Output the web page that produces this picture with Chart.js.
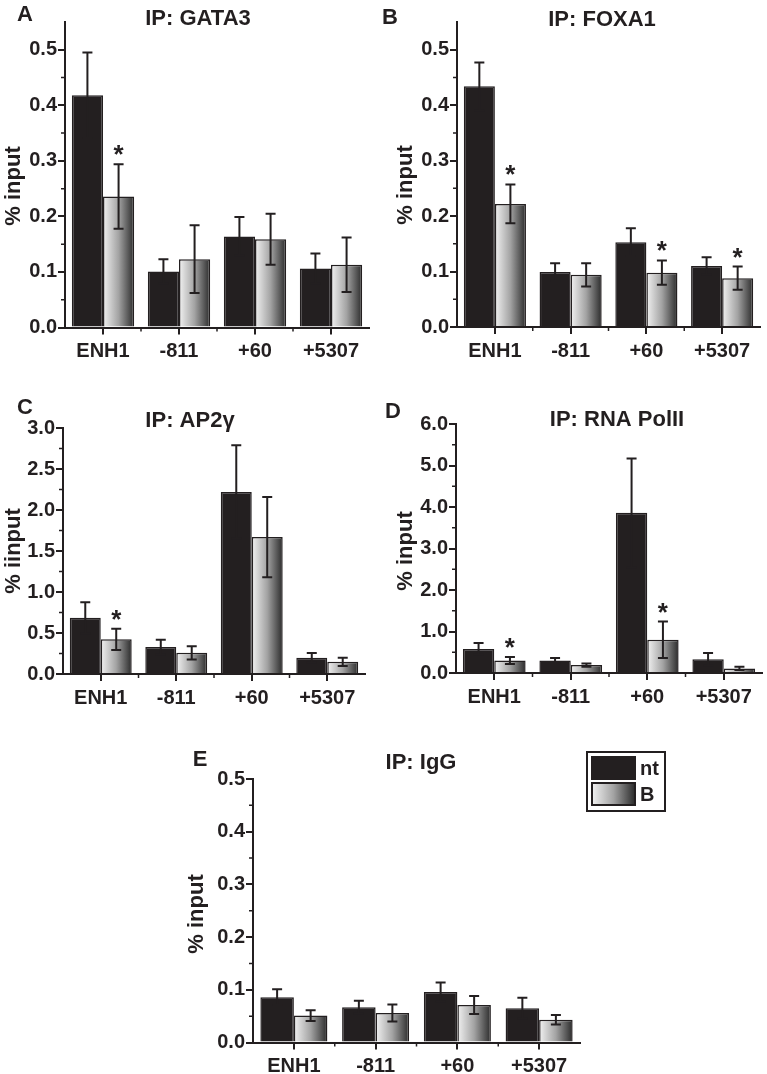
<!DOCTYPE html>
<html>
<head>
<meta charset="utf-8">
<title>ChIP % input</title>
<script src="https://cdn.jsdelivr.net/npm/chart.js@4.4.0/dist/chart.umd.min.js"></script>
<style>
  html, body { margin: 0; padding: 0; background: #fff; }
  #page { position: relative; width: 767px; height: 1074px; overflow: hidden; }
  #page canvas { position: absolute; }
</style>
</head>
<body>
<div id="page">
  <canvas id="panelA" width="380" height="372" style="left:0px;top:0px"></canvas>
  <canvas id="panelB" width="387" height="372" style="left:380px;top:0px"></canvas>
  <canvas id="panelC" width="380" height="340" style="left:0px;top:380px"></canvas>
  <canvas id="panelD" width="387" height="340" style="left:380px;top:380px"></canvas>
  <canvas id="panelE" width="500" height="339" style="left:180px;top:735px"></canvas>
</div>
<script>
// regions on the x axis and the two conditions
const regions = ["ENH1", "-811", "+60", "+5307"];
const seriesNames = ["nt", "B"];

// A: IP GATA3
const gata3Nt = [0.418, 0.101, 0.164, 0.106];
const gata3NtErr = [0.077, 0.022, 0.035, 0.027];
const gata3B = [0.236, 0.123, 0.159, 0.113];
const gata3BErr = [0.058, 0.061, 0.046, 0.049];
const gata3Stars = [1, 0, 0, 0];

// B: IP FOXA1
const foxa1Nt = [0.434, 0.099, 0.153, 0.110];
const foxa1NtErr = [0.043, 0.016, 0.025, 0.016];
const foxa1B = [0.222, 0.094, 0.098, 0.088];
const foxa1BErr = [0.035, 0.021, 0.022, 0.021];
const foxa1Stars = [1, 0, 1, 1];

// C: IP AP2γ
const ap2gNt = [0.685, 0.328, 2.22, 0.197];
const ap2gNtErr = [0.19, 0.09, 0.57, 0.058];
const ap2gB = [0.423, 0.258, 1.67, 0.148];
const ap2gBErr = [0.13, 0.08, 0.49, 0.05];
const ap2gStars = [1, 0, 0, 0];

// D: IP RNA PolII
const polNt = [0.58, 0.30, 3.86, 0.33];
const polNtErr = [0.14, 0.06, 1.31, 0.15];
const polB = [0.30, 0.19, 0.80, 0.11];
const polBErr = [0.085, 0.04, 0.44, 0.04];
const polStars = [1, 0, 1, 0];

// E: IP IgG
const iggNt = [0.086, 0.067, 0.096, 0.065];
const iggNtErr = [0.015, 0.012, 0.018, 0.020];
const iggB = [0.051, 0.056, 0.071, 0.043];
const iggBErr = [0.010, 0.016, 0.017, 0.009];
const iggStars = [0, 0, 0, 0];

const noStars = [0, 0, 0, 0];

const ink = "#231f20";
const family = "'Liberation Sans', Arial, Helvetica, sans-serif";
const BAR_GROUP = 0.82;

function fadeGradient(ctx, left, width) {
  const g = ctx.createLinearGradient(left, 0, left + width, 0);
  g.addColorStop(0, "#f2f2f2");
  g.addColorStop(0.5, "#a3a3a3");
  g.addColorStop(1, "#2b2b2b");
  return g;
}

function fadeFill(context) {
  const chart = context.chart;
  const xs = chart.scales.x;
  if (!xs || !chart.chartArea || context.type !== "data") return "#a3a3a3";
  const cw = xs.width / chart.data.labels.length;
  const bw = cw * BAR_GROUP / chart.data.datasets.length;
  const left = xs.getPixelForValue(context.dataIndex) - cw * BAR_GROUP / 2 + context.datasetIndex * bw;
  if (!isFinite(left) || !isFinite(bw) || bw <= 0) return "#a3a3a3";
  return fadeGradient(chart.ctx, left, bw);
}

const errorBars = {
  id: "errorBars",
  afterDatasetsDraw(chart) {
    const ctx = chart.ctx;
    const ys = chart.scales.y;
    ctx.save();
    ctx.strokeStyle = ink;
    ctx.fillStyle = ink;
    ctx.lineWidth = 2;
    chart.data.datasets.forEach((ds, d) => {
      const meta = chart.getDatasetMeta(d);
      meta.data.forEach((bar, i) => {
        const v = ds.data[i];
        const e = ds.errors[i];
        const top = ys.getPixelForValue(v + e);
        const bot = ys.getPixelForValue(Math.max(0, v - e));
        ctx.beginPath();
        ctx.moveTo(bar.x, top);
        ctx.lineTo(bar.x, bot);
        ctx.moveTo(bar.x - 5, top);
        ctx.lineTo(bar.x + 5, top);
        ctx.moveTo(bar.x - 5, bot);
        ctx.lineTo(bar.x + 5, bot);
        ctx.stroke();
        if (ds.stars[i]) {
          ctx.font = "bold 26px " + family;
          ctx.textAlign = "center";
          ctx.textBaseline = "alphabetic";
          ctx.fillText("*", bar.x, top - 1);
        }
      });
    });
    ctx.restore();
  },
};

const minorTicks = {
  id: "minorTicks",
  afterDraw(chart, args, opts) {
    const xs = chart.scales.x;
    const ys = chart.scales.y;
    const ctx = chart.ctx;
    ctx.save();
    ctx.strokeStyle = ink;
    ctx.lineWidth = 1.5;
    ctx.beginPath();
    for (let k = 1; k * opts.step < ys.max - 1e-9; k += 2) {
      const py = ys.getPixelForValue(k * opts.step);
      ctx.moveTo(xs.left - 4, py);
      ctx.lineTo(xs.left, py);
    }
    for (let i = 0; i < chart.data.labels.length - 1; i++) {
      const px = (xs.getPixelForValue(i) + xs.getPixelForValue(i + 1)) / 2;
      ctx.moveTo(px, ys.bottom);
      ctx.lineTo(px, ys.bottom + 4);
    }
    ctx.stroke();
    ctx.restore();
  },
};

const panelText = {
  id: "panelText",
  afterDraw(chart, args, o) {
    const ctx = chart.ctx;
    ctx.save();
    ctx.fillStyle = ink;
    ctx.textAlign = "center";
    ctx.textBaseline = "middle";
    ctx.font = "bold 22px " + family;
    ctx.fillText(o.letter, o.letterX, o.letterY);
    ctx.fillText(o.title, o.titleX, o.titleY);
    ctx.translate(o.labelX, o.labelY);
    ctx.rotate(-Math.PI / 2);
    ctx.fillText(o.yLabel, 0, 0);
    ctx.restore();
  },
};

const boxLegend = {
  id: "boxLegend",
  afterDraw(chart, args, o) {
    if (!o || !o.w) return;
    const ctx = chart.ctx;
    ctx.save();
    ctx.strokeStyle = ink;
    ctx.lineWidth = 2;
    ctx.strokeRect(o.x, o.y, o.w, o.h);
    chart.data.datasets.forEach((ds, d) => {
      const sy = o.y + 5 + d * 26;
      ctx.fillStyle = d === 0 ? ink : fadeGradient(ctx, o.x + 5, 43);
      ctx.fillRect(o.x + 5, sy, 43, 22);
      ctx.strokeRect(o.x + 5, sy, 43, 22);
      ctx.fillStyle = ink;
      ctx.font = "bold 20px " + family;
      ctx.textAlign = "left";
      ctx.textBaseline = "middle";
      ctx.fillText(ds.label, o.x + 53, sy + 12);
    });
    ctx.restore();
  },
};

function drawPanel(id, frame, yAxis, text, ntValues, ntErrors, bValues, bErrors, stars, legend) {
  const tickFont = { family, size: 20, weight: "bold" };
  const plugins = [errorBars, minorTicks, panelText];
  if (legend) plugins.push(boxLegend);
  return new Chart(document.getElementById(id), {
    type: "bar",
    data: {
      labels: regions,
      datasets: [
        { label: seriesNames[0], data: ntValues, errors: ntErrors, stars: noStars, backgroundColor: ink, borderColor: ink, borderWidth: 1.5 },
        { label: seriesNames[1], data: bValues, errors: bErrors, stars, backgroundColor: fadeFill, borderColor: ink, borderWidth: 1.5 },
      ],
    },
    options: {
      responsive: false,
      animation: false,
      events: [],
      layout: { padding: { left: 0, top: frame.top, right: frame.w - frame.right, bottom: 0 } },
      datasets: { bar: { categoryPercentage: BAR_GROUP, barPercentage: 1 } },
      plugins: {
        legend: { display: false },
        tooltip: { enabled: false },
        minorTicks: { step: yAxis.step / 2 },
        panelText: text,
        boxLegend: legend || {},
      },
      scales: {
        x: {
          offset: true,
          grid: { offset: false, drawOnChartArea: false, tickLength: 7, lineWidth: 2, color: ink },
          border: { color: ink, width: 2 },
          ticks: { color: ink, font: tickFont, padding: 5, maxRotation: 0, autoSkip: false },
          afterFit: (s) => { s.height = frame.h - frame.bottom; },
        },
        y: {
          min: 0,
          max: yAxis.max,
          grid: { drawOnChartArea: false, tickLength: 7, lineWidth: 2, color: ink },
          border: { color: ink, width: 2 },
          ticks: { stepSize: yAxis.step, includeBounds: false, color: ink, font: tickFont, padding: 1, callback: (v) => Number(v).toFixed(1) },
          afterFit: (s) => { s.width = frame.left; },
        },
      },
    },
    plugins,
  });
}

drawPanel("panelA", { w: 380, h: 372, left: 65, right: 369, top: 22, bottom: 327.5 }, { max: 0.55, step: 0.1 },
  { letter: "A", letterX: 25, letterY: 15, title: "IP: GATA3", titleX: 198, titleY: 19, yLabel: "% input", labelX: 14, labelY: 186 },
  gata3Nt, gata3NtErr, gata3B, gata3BErr, gata3Stars);

drawPanel("panelB", { w: 387, h: 372, left: 77, right: 380, top: 22, bottom: 327 }, { max: 0.55, step: 0.1 },
  { letter: "B", letterX: 10, letterY: 18, title: "IP: FOXA1", titleX: 222, titleY: 20, yLabel: "% input", labelX: 26, labelY: 185 },
  foxa1Nt, foxa1NtErr, foxa1B, foxa1BErr, foxa1Stars);

drawPanel("panelC", { w: 380, h: 340, left: 63, right: 365, top: 48, bottom: 294 }, { max: 3.0, step: 0.5 },
  { letter: "C", letterX: 25, letterY: 28, title: "IP: AP2γ", titleX: 190, titleY: 41, yLabel: "% iinput", labelX: 14, labelY: 171 },
  ap2gNt, ap2gNtErr, ap2gB, ap2gBErr, ap2gStars);

drawPanel("panelD", { w: 387, h: 340, left: 76, right: 382, top: 44, bottom: 293 }, { max: 6.0, step: 1.0 },
  { letter: "D", letterX: 13, letterY: 32, title: "IP: RNA PolII", titleX: 237, titleY: 40, yLabel: "% input", labelX: 26, labelY: 171 },
  polNt, polNtErr, polB, polBErr, polStars);

drawPanel("panelE", { w: 500, h: 339, left: 73, right: 400, top: 44, bottom: 307.5 }, { max: 0.5, step: 0.1 },
  { letter: "E", letterX: 20, letterY: 25, title: "IP: IgG", titleX: 241, titleY: 28, yLabel: "% input", labelX: 17, labelY: 179 },
  iggNt, iggNtErr, iggB, iggBErr, iggStars,
  { x: 407, y: 17, w: 78, h: 59 });
</script>
</body>
</html>
